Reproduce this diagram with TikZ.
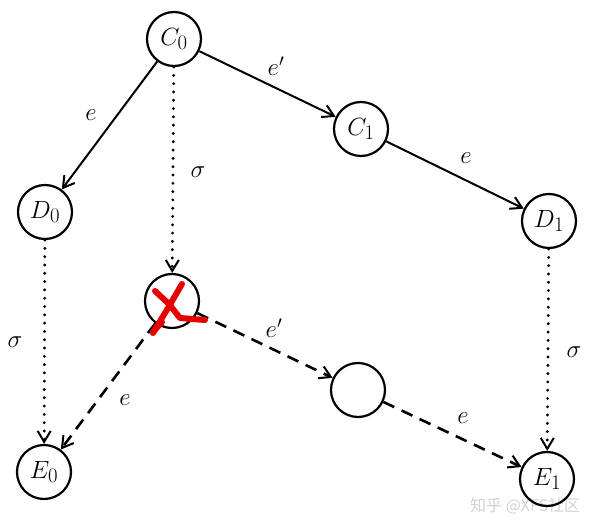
\documentclass[tikz,border=0pt]{standalone}
\usepackage{fontspec}
\newfontfamily\cjk{Noto Sans CJK SC}
\usetikzlibrary{arrows.meta}
\begin{document}
\begin{tikzpicture}[x=1pt,y=-1pt,
  st/.style={circle,draw,line width=2.2pt,minimum size=54pt,inner sep=0pt,font=\fontsize{30}{36}\selectfont},
  lbl/.style={font=\fontsize{25}{30}\selectfont,inner sep=0pt},
  tip/.style={-{Straight Barb[length=11pt,width=13pt,line width=2pt]}},
  solidedge/.style={tip,line width=2pt},
  dotedge/.style={tip,line width=3.2pt,dash pattern=on 0pt off 8.3pt,line cap=round},
  dashedge/.style={tip,line width=2.6pt,dash pattern=on 12pt off 8pt},
  redmark/.style={red!90!black,line width=6pt,line cap=round,line join=round}]
\useasboundingbox (0,0) rectangle (600,521);
% watermark (behind)
\node[font=\cjk\fontsize{16}{20}\selectfont,text=gray!35,anchor=west,inner sep=0pt] (wm) at (470,506) {知乎 @XFS社区};
\node[st] (C0) at (174,39) {$C_0$};
\node[st] (C1) at (361,129) {$C_1$};
\node[st] (D0) at (45,212) {$D_0$};
\node[st] (D1) at (549,221) {$D_1$};
\node[st] (X) at (172,301) {};
\node[st] (B) at (358,390) {};
\node[st] (E0) at (44,472) {$E_0$};
\node[st] (E1) at (547,479) {$E_1$};
% solid
\draw[solidedge] (C0) -- (D0);
\draw[solidedge] (C0) -- (C1);
\draw[solidedge] (C1) -- (D1);
% dotted
\draw[dotedge] (C0) -- (X);
\draw[dotedge] (D0) -- (E0);
\draw[dotedge] (D1) -- (E1);
% dashed
\draw[dashedge] (X) -- (E0);
\draw[dashedge] (X) -- (B);
\draw[dashedge] (B) -- (E1);
% labels
\node[lbl] (l1) at (91,115) {$e$};
\node[lbl] (l2) at (276,66) {$e'$};
\node[lbl] (l3) at (198,172) {$\sigma$};
\node[lbl] (l4) at (466,158) {$e$};
\node[lbl] (l5) at (15,342) {$\sigma$};
\node[lbl] (l6) at (574,352) {$\sigma$};
\node[lbl] (l7) at (274,328) {$e'$};
\node[lbl] (l8) at (125,400) {$e$};
\node[lbl] (l9) at (463,418) {$e$};
% red cross
\draw[redmark] (182,284) -- (168,308) -- (153,333);
\draw[redmark] (155,291) -- (169,304) -- (180,318) -- (205,320);
\draw[redmark] (153,332) -- (162,322);
\end{tikzpicture}
\end{document}
